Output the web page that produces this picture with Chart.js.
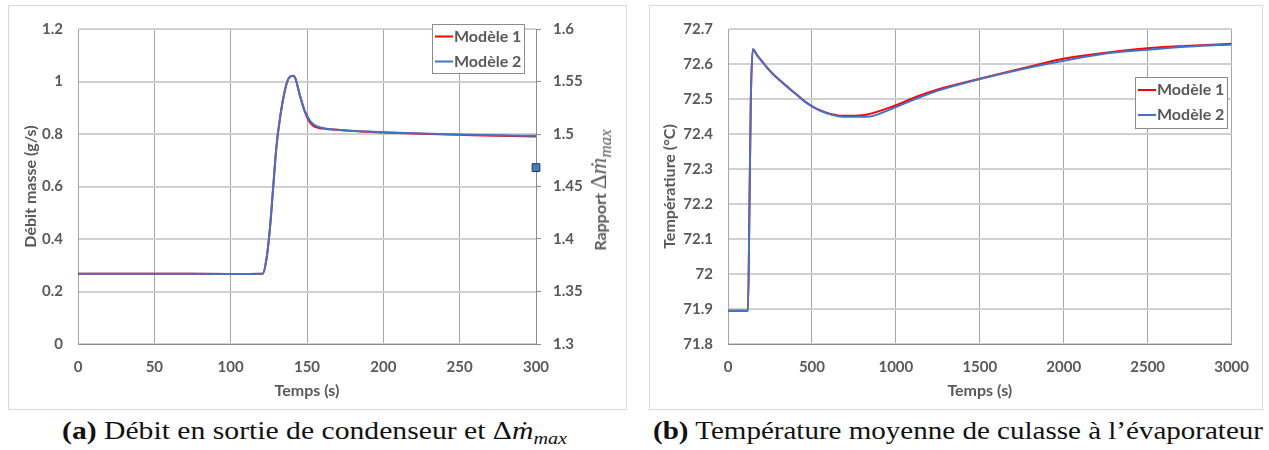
<!DOCTYPE html>
<html>
<head>
<meta charset="utf-8">
<script src="https://cdn.jsdelivr.net/npm/chart.js@4.4.0/dist/chart.umd.min.js"></script>
<style>
body{margin:0;background:#fff;width:1269px;height:450px;position:relative;overflow:hidden}
.panel{position:absolute;top:5px;height:405px;border:1px solid #d9d9d9;box-sizing:border-box}
canvas{position:absolute;top:5px}
#y2title{position:absolute;left:601px;top:190px;transform:translate(-50%,-50%) rotate(-90deg);white-space:nowrap;
  font:bold 16px Lato,sans-serif;color:#595959}
#y2title .m{font-family:"Liberation Serif",serif;font-weight:normal;font-size:23px}
#y2title sub{font-family:"Liberation Serif",serif;font-weight:normal;font-size:17px;font-style:italic;vertical-align:-5px}
.cap{position:absolute;top:417px;font-family:"Liberation Serif",serif;font-size:25px;color:#111;white-space:nowrap;transform-origin:0 0}
.cap sub{font-size:17px;vertical-align:-5px}
</style>
</head>
<body>
<div class="panel" style="left:8px;width:619px"></div>
<div class="panel" style="left:649px;width:614px"></div>
<canvas id="chartA" width="619" height="405" style="left:8px"></canvas>
<canvas id="chartB" width="614" height="405" style="left:649px"></canvas>
<div id="y2title">Rapport <span class="m">Δ<i>ṁ</i></span><sub>max</sub></div>
<div class="cap" id="capA" data-l="62" data-w="505"><b>(a)</b> Débit en sortie de condenseur et Δ<i>ṁ</i><sub><i>max</i></sub></div>
<div class="cap" id="capB" data-l="653" data-w="610"><b>(b)</b> Température moyenne de culasse à l’évaporateur</div>

<script>
// (a) débit masse en sortie de condenseur
const tA = [0, 50, 100, 121, 123.4, 125.6, 127.8, 130, 132.1, 135.4, 138.2, 140.9, 142.4, 145.2, 148.5, 151.8, 154, 156.2, 162.8, 170, 178, 200, 225, 250, 275, 300];
const debit1 = [0.268, 0.268, 0.267, 0.268, 0.322, 0.433, 0.593, 0.753, 0.852, 0.963, 1.014, 1.022, 1.012, 0.950, 0.886, 0.845, 0.832, 0.826, 0.819, 0.816, 0.812, 0.806, 0.801, 0.797, 0.793, 0.790];
const debit2 = [0.268, 0.268, 0.267, 0.268, 0.322, 0.433, 0.593, 0.753, 0.852, 0.963, 1.014, 1.022, 1.012, 0.950, 0.889, 0.852, 0.838, 0.830, 0.820, 0.816, 0.812, 0.807, 0.802, 0.798, 0.795, 0.793];
const rapportT = [300];
const rapportV = [1.468];

// (b) température moyenne de culasse
const tB = [0, 119, 128, 136, 148, 175, 200, 230, 265, 300, 363, 410, 461, 510, 558, 610, 656, 720, 822, 1000, 1127, 1250, 1500, 1750, 2000, 2250, 2500, 2750, 3000];
const temp1 = [71.895, 71.895, 72.2, 72.5, 72.642, 72.624, 72.609, 72.591, 72.573, 72.557, 72.531, 72.512, 72.492, 72.477, 72.466, 72.457, 72.453, 72.452, 72.455, 72.482, 72.507, 72.527, 72.558, 72.587, 72.615, 72.632, 72.645, 72.652, 72.658];
const temp2 = [71.895, 71.895, 72.2, 72.5, 72.642, 72.624, 72.609, 72.591, 72.573, 72.557, 72.531, 72.512, 72.491, 72.476, 72.465, 72.456, 72.451, 72.449, 72.449, 72.477, 72.502, 72.524, 72.557, 72.585, 72.609, 72.630, 72.641, 72.650, 72.656];

const RED = "#ff0000", BLUE = "#4472c4", TXT = "#595959";
Chart.defaults.font.family = "Lato";
Chart.defaults.color = TXT;

const pts = (xs, ys) => xs.map((x, i) => ({ x: x, y: ys[i] }));
const fmt = v => String(+v.toFixed(3));
const bold = size => ({ family: "Lato", weight: "bold", size: size });

// legende encadree dans la zone de tracé
const boxLegend = {
  id: "boxLegend",
  afterDraw(chart, args, o) {
    const ctx = chart.ctx;
    ctx.save();
    ctx.fillStyle = "#fff";
    ctx.fillRect(o.x, o.y, o.w, o.h);
    ctx.strokeStyle = "#8c8c8c";
    ctx.lineWidth = 1;
    ctx.strokeRect(o.x + 0.5, o.y + 0.5, o.w, o.h);
    ctx.font = "bold 16px Lato";
    ctx.textBaseline = "middle";
    chart.data.datasets.filter(d => d.label).forEach((d, i) => {
      const y = o.y + o.first + i * 25;
      ctx.strokeStyle = d.borderColor;
      ctx.lineWidth = 2;
      ctx.beginPath();
      ctx.moveTo(o.x + 3, y);
      ctx.lineTo(o.x + 21, y);
      ctx.stroke();
      ctx.fillStyle = TXT;
      ctx.fillText(d.label, o.x + 22, y);
    });
    ctx.restore();
  }
};

function lineSet(label, color, data, order) {
  return { label, data, borderColor: color, backgroundColor: color, borderWidth: 2,
    pointRadius: 0, cubicInterpolationMode: "monotone", order, yAxisID: "y" };
}

function xAxis(max, step) {
  return {
    type: "linear", min: 0, max: max,
    ticks: { stepSize: step, padding: 14, font: bold(15), callback: fmt },
    grid: { color: "#a6a6a6", lineWidth: 1, drawTicks: false },
    border: { color: "#8a8a8a" },
    title: { display: true, text: "Temps (s)", font: bold(16), padding: { top: 0, bottom: 10 } },
    afterFit: s => { s.height = 66; }
  };
}

function yAxis(min, max, step, title, w, tpad) {
  return {
    type: "linear", position: "left", min, max,
    ticks: { stepSize: step, padding: 15, font: bold(15), callback: fmt },
    grid: { color: "#d0d0d0", lineWidth: 2, drawTicks: false },
    border: { color: "#a6a6a6" },
    title: { display: true, text: title, font: bold(16), padding: { top: tpad, bottom: 0 } },
    afterFit: s => { s.width = w; }
  };
}

new Chart(document.getElementById("chartA"), {
  type: "line",
  data: {
    datasets: [
      lineSet("Modèle 1", RED, pts(tA, debit1), 2),
      lineSet("Modèle 2", BLUE, pts(tA, debit2), 1),
      { data: pts(rapportT, rapportV), yAxisID: "y2", showLine: false, pointStyle: "rect",
        pointRadius: 5.5, backgroundColor: "#4a7bc0", borderColor: "#1f3a60", borderWidth: 1, clip: false, order: 0 }
    ]
  },
  options: {
    responsive: false, animation: false, devicePixelRatio: 1,
    layout: { padding: { top: 14, right: 0, bottom: 0, left: 0 } },
    plugins: { legend: { display: false }, tooltip: { enabled: false },
      boxLegend: { x: 424, y: 19, w: 92, h: 49, first: 12.5 } },
    scales: {
      x: xAxis(300, 50),
      y: yAxis(0, 1.2, 0.2, "Débit masse (g/s)", 70, 13),
      y2: {
        type: "linear", position: "right", min: 1.3, max: 1.6,
        ticks: { stepSize: 0.05, padding: 12, font: bold(15), callback: fmt },
        grid: { drawOnChartArea: false, drawTicks: true, tickLength: 5, color: "#8c8c8c" },
        border: { color: "#8c8c8c" },
        afterFit: s => { s.width = 91; }
      }
    }
  },
  plugins: [boxLegend]
});

new Chart(document.getElementById("chartB"), {
  type: "line",
  data: {
    datasets: [
      lineSet("Modèle 1", RED, pts(tB, temp1), 2),
      lineSet("Modèle 2", BLUE, pts(tB, temp2), 1)
    ]
  },
  options: {
    responsive: false, animation: false, devicePixelRatio: 1,
    layout: { padding: { top: 14, right: 23, bottom: 0, left: 0 } },
    plugins: { legend: { display: false }, tooltip: { enabled: false },
      boxLegend: { x: 486, y: 72, w: 92, h: 51, first: 13 } },
    scales: {
      x: xAxis(3000, 500),
      y: yAxis(71.8, 72.7, 0.1, "Températiure (°C)", 79, 11)
    }
  },
  plugins: [boxLegend]
});

// legendes (a) et (b) : largeur ajustee a celle de la reference
document.querySelectorAll(".cap").forEach(el => {
  const w = el.getBoundingClientRect().width;
  el.style.left = el.dataset.l + "px";
  el.style.transform = "scaleX(" + (+el.dataset.w / w) + ")";
});
</script>
</body>
</html>
